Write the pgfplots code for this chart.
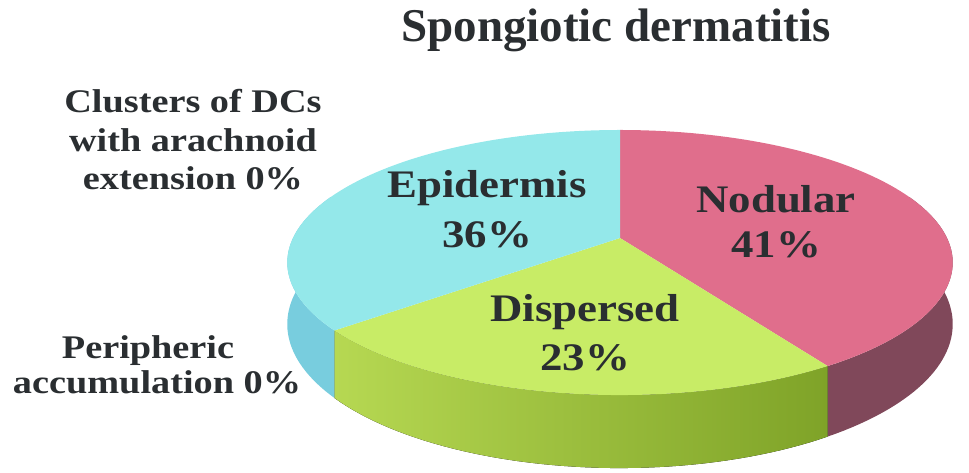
\documentclass[border=0pt]{standalone}
\usepackage{fontspec}
\setmainfont{Liberation Serif}
\newfontfamily\innerfont{Liberation Serif}[FakeStretch=1.15]
\newfontfamily\sidefont{Liberation Serif}[FakeStretch=1.16]
\usepackage{pgfplots}
\pgfplotsset{compat=1.18}
\usepgfplotslibrary{fillbetween}

\definecolor{txt}{HTML}{2A2E31}
\definecolor{cyanTop}{HTML}{94E8EA}
\definecolor{cyanSide}{HTML}{78CDDE}
\definecolor{pinkTop}{HTML}{E06E8C}
\definecolor{pinkSide}{HTML}{80485A}
\definecolor{greenTop}{HTML}{C8EC66}
\definecolor{greenSideL}{HTML}{B6D852}
\definecolor{greenSideR}{HTML}{7FA328}

\begin{document}
\begin{tikzpicture}
% slice shares (percent), clockwise from 12 o'clock
\def\pNod{41}
\def\pDis{23}
\def\pEpi{36}
\pgfmathsetmacro{\aA}{90}
\pgfmathsetmacro{\aB}{\aA-3.6*\pNod}
\pgfmathsetmacro{\aC}{\aB-3.6*\pDis}
\pgfmathsetmacro{\aD}{\aC-3.6*\pEpi}
\begin{axis}[
    width=484.5pt, height=236pt, scale only axis,
    xmin=0, xmax=969, ymin=0, ymax=472, y dir=reverse,
    hide axis, clip=false,
    declare function={
        kk(\t)=1+0.185*sin(\t);
        px(\t)=620+327*cos(\t)/kk(\t);
        py(\t,\z)=238+(-128*sin(\t)+59.5*\z)/kk(\t);
    },
]
\path (axis cs:0,0) rectangle (axis cs:969,472);

% ---- sides (front half only) ----
\addplot[draw=none, name path=nT, domain=\aB:20, samples=50, variable=\t] ({px(\t)},{py(\t,0)});
\addplot[draw=none, name path=nB, domain=\aB:20, samples=50, variable=\t] ({px(\t)},{py(\t,1)});
\addplot[fill=pinkSide, draw=none] fill between[of=nT and nB];

\addplot[draw=none, name path=dT, domain=\aC:\aB, samples=50, variable=\t] ({px(\t)},{py(\t,0)});
\addplot[draw=none, name path=dB, domain=\aC:\aB, samples=50, variable=\t] ({px(\t)},{py(\t,1)});
\addplot[left color=greenSideL, right color=greenSideR, draw=none] fill between[of=dT and dB];

\addplot[draw=none, name path=eT, domain=-200:\aC, samples=50, variable=\t] ({px(\t)},{py(\t,0)});
\addplot[draw=none, name path=eB, domain=-200:\aC, samples=50, variable=\t] ({px(\t)},{py(\t,1)});
\addplot[fill=cyanSide, draw=none] fill between[of=eT and eB];

% ---- top faces ----
\addplot[fill=pinkTop, draw=none, domain=\aB:\aA, samples=80, variable=\t]
    ({px(\t)},{py(\t,0)}) -- (axis cs:620,238) -- cycle;
\addplot[fill=greenTop, draw=none, domain=\aC:\aB, samples=60, variable=\t]
    ({px(\t)},{py(\t,0)}) -- (axis cs:620,238) -- cycle;
\addplot[fill=cyanTop, draw=none, domain=\aD:\aC, samples=80, variable=\t]
    ({px(\t)},{py(\t,0)}) -- (axis cs:620,238) -- cycle;

% ---- labels ----
\node[anchor=base, text=txt, font=\bfseries\fontsize{23.5}{28}\selectfont]
    at (axis cs:616,42) {Spongiotic dermatitis};

\begin{scope}[every node/.style={anchor=base, text=txt, font=\sidefont\bfseries\fontsize{16.5}{19}\selectfont}]
\node at (axis cs:193,113) {Clusters of DCs};
\node at (axis cs:193,151) {with arachnoid};
\node at (axis cs:193,189) {extension 0\%};
\node at (axis cs:148,358) {Peripheric};
\node at (axis cs:157,393) {accumulation 0\%};
\end{scope}

\begin{scope}[every node/.style={anchor=base, text=txt, font=\innerfont\bfseries\fontsize{19.5}{23}\selectfont}]
\node at (axis cs:487,198) {Epidermis};
\node at (axis cs:487,247) {\pEpi\%};
\node at (axis cs:776,213) {Nodular};
\node at (axis cs:776,258) {\pNod\%};
\node at (axis cs:585,321) {Dispersed};
\node at (axis cs:585,370) {\pDis\%};
\end{scope}
\end{axis}
\end{tikzpicture}
\end{document}
